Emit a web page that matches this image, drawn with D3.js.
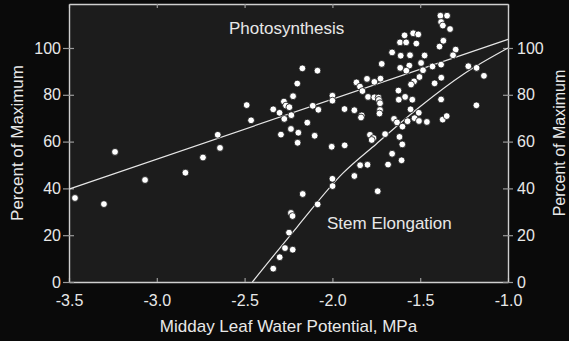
<!DOCTYPE html>
<html>
<head>
<meta charset="utf-8">
<script src="https://cdn.jsdelivr.net/npm/d3@7"></script>
<style>
  body { margin: 0; background: #0a0a0a; }
  text { font-family: "Liberation Sans", Arial, sans-serif; fill: #e8e8e8; }
</style>
</head>
<body>
<div id="chart"></div>
<script>
// midday leaf water potential (MPa) of each observation
let leafPotential = [
  -3.466, -3.301, -3.238, -3.067, -2.837, -2.737, -2.653, -2.640, -2.488, -2.463,
  -2.337, -2.301, -2.276, -2.264, -2.245, -2.274, -2.234, -2.224, -2.200, -2.171,
  -2.085, -2.293, -2.236, -2.194, -2.198, -2.143, -2.112, -2.080, -2.101, -2.004,
  -2.000, -2.000, -1.931, -1.875, -1.833, -1.837, -1.930, -1.842, -1.800, -1.863,
  -1.843, -1.829, -1.797, -1.803, -1.761, -1.726, -1.761, -1.737, -1.735, -1.729,
  -1.729, -1.732, -1.786, -1.766, -1.776, -1.700, -1.719, -1.660, -1.615, -1.580,
  -1.522, -1.589, -1.540, -1.511, -1.611, -1.558, -1.614, -1.562, -1.579, -1.495,
  -1.484, -1.475, -1.430, -1.381, -1.504, -1.380, -1.418, -1.535, -1.552, -1.624,
  -1.586, -1.622, -1.545, -1.381, -1.385, -1.347, -1.381, -1.371, -1.330, -1.368,
  -1.390, -1.298, -1.313, -1.226, -1.179, -1.137, -1.555, -1.508, -1.532, -1.507,
  -1.462, -1.649, -1.632, -1.601, -1.572, -1.372, -1.349, -1.180, -1.618, -1.602,
  -1.660, -1.606, -1.683, -1.875, -2.000, -1.999, -1.742, -2.169, -2.084, -2.236,
  -2.227, -2.247, -2.270, -2.226, -2.300, -2.337
];
// percent of maximum (photosynthesis or stem elongation) for the same observations
let percentMax = [
   35.9,  33.3,  55.6,  43.6,  46.7,  53.2,  62.9,  57.3,  75.6,  69.1,
   73.8,  72.3,  77.1,  75.4,  74.7,  69.7,  71.3,  79.4,  84.8,  91.3,
   90.3,  63.0,  65.4,  63.8,  59.5,  68.1,  75.3,  73.6,  62.5,  57.8,
   79.6,  77.5,  73.9,  73.4,  71.2,  70.3,  58.4,  49.9,  50.1,  85.3,
   83.5,  81.6,  79.1,  86.8,  85.5,  86.9,  78.9,  78.8,  77.8,  76.4,
   73.5,  72.0,  62.9,  61.5,  60.7,  63.2,  93.2,  98.1, 102.4, 102.4,
  101.9, 105.4, 106.3, 105.8,  96.7,  96.9,  91.5,  92.5,  90.3,  93.6,
   90.5,  96.8,  92.1,  92.9,  87.6,  87.3,  84.9,  85.7,  84.4,  81.8,
   79.1,  77.9,  77.9,  78.0, 113.8, 113.8, 111.1, 109.6, 108.1, 103.1,
  100.6,  99.3,  96.9,  92.2,  91.5,  88.1,  73.8,  72.3,  70.0,  68.8,
   68.4,  69.7,  68.2,  66.4,  68.7,  69.4,  70.9,  75.5,  62.0,  58.8,
   54.8,  52.0,  50.2,  45.3,  44.1,  41.0,  38.8,  37.6,  33.2,  29.5,
   28.2,  21.1,  14.5,  13.8,  10.6,   5.7
];

// fitted lines: [water potential, percent]
let photoFit = [[-3.5, 39.7], [-1.0, 103.7]];
let stemFit = [[-2.456, 0], [-2.2, 23.6], [-1.94, 46.5], [-1.75, 59], [-1.5, 75], [-1.25, 89], [-1.0, 100]];

let xTicks = [-3.5, -3.0, -2.5, -2.0, -1.5, -1.0];
let yTicks = [0, 20, 40, 60, 80, 100];

// set the dimensions of the canvas
let margin = {top: 4, right: 61, bottom: 59, left: 69},
    width = 569 - margin.left - margin.right,
    height = 341 - margin.top - margin.bottom;

let x = d3.scaleLinear().domain([-3.5, -1.0]).range([0, width]);
let y = d3.scaleLinear().domain([0, 118.8]).range([height, 0]);

let root = d3.select("#chart").append("svg")
    .attr("width", 569)
    .attr("height", 341);

root.append("rect")
    .attr("width", 569).attr("height", 341)
    .attr("fill", "#0a0a0a");

let svg = root.append("g")
    .attr("transform", "translate(" + margin.left + "," + margin.top + ")");

// plot background
svg.append("rect")
    .attr("width", width)
    .attr("height", height)
    .attr("fill", "#1c1c1c");

let axisColor = "#cfcfcf";

function styleAxis(g){
    g.select(".domain").attr("stroke", axisColor).attr("stroke-width", 1.4);
    g.selectAll(".tick line").attr("stroke", "#9a9a9a").attr("stroke-width", 1.2);
    g.selectAll(".tick text")
        .attr("fill", "#e8e8e8")
        .style("font-size", "16px")
        .style("font-family", '"Liberation Sans", Arial, sans-serif');
}

// bottom axis, ticks point inward (plain hyphen as in the original)
svg.append("g")
    .attr("transform", "translate(0," + height + ")")
    .call(d3.axisBottom(x).tickValues(xTicks).tickSizeInner(-4).tickSizeOuter(0)
        .tickPadding(13).tickFormat(function(d){ return d.toFixed(1); }))
    .call(styleAxis);

// top axis, no labels
svg.append("g")
    .call(d3.axisTop(x).tickValues(xTicks).tickSizeInner(-4).tickSizeOuter(0).tickFormat(""))
    .call(styleAxis);

// left axis
svg.append("g")
    .call(d3.axisLeft(y).tickValues(yTicks).tickSizeInner(6).tickSizeOuter(0).tickPadding(2))
    .call(styleAxis)
    .call(g => g.selectAll(".tick line").attr("x1", 5));

// right axis
svg.append("g")
    .attr("transform", "translate(" + width + ",0)")
    .call(d3.axisRight(y).tickValues(yTicks).tickSizeInner(5).tickSizeOuter(0).tickPadding(4))
    .call(styleAxis)
    .call(g => g.selectAll(".tick line").attr("x1", -5));

// regression lines
let line = d3.line()
    .x(function(d){ return x(d[0]); })
    .y(function(d){ return y(d[1]); });

svg.append("path")
    .datum(photoFit)
    .attr("d", line)
    .attr("fill", "none")
    .attr("stroke", "#e6e6e6")
    .attr("stroke-width", 1.2);

svg.append("path")
    .datum(stemFit)
    .attr("d", line.curve(d3.curveMonotoneX))
    .attr("fill", "none")
    .attr("stroke", "#e6e6e6")
    .attr("stroke-width", 1.2);

// observations
svg.selectAll(".dot")
    .data(leafPotential)
    .enter()
    .append("circle")
    .attr("class", "dot")
    .attr("cx", function(d){ return x(d); })
    .attr("cy", function(d, i){ return y(percentMax[i]); })
    .attr("r", 3.4)
    .attr("fill", "#ffffff")
    .attr("stroke", "#111")
    .attr("stroke-width", 0.8);

// labels for the two responses
svg.append("text")
    .attr("x", 229 - margin.left)
    .attr("y", 34 - margin.top)
    .style("font-size", "17px")
    .text("Photosynthesis");

svg.append("text")
    .attr("x", 327 - margin.left)
    .attr("y", 229 - margin.top)
    .style("font-size", "17px")
    .text("Stem Elongation");

// text label for the x axis
root.append("text")
    .attr("x", margin.left + width / 2)
    .attr("y", 332)
    .style("text-anchor", "middle")
    .style("font-size", "17px")
    .text("Midday Leaf Water Potential, MPa");

// text labels for the y axes
root.append("text")
    .attr("transform", "translate(23," + (margin.top + height / 2) + ") rotate(-90)")
    .style("text-anchor", "middle")
    .style("font-size", "17px")
    .text("Percent of Maximum");

root.append("text")
    .attr("transform", "translate(565," + (margin.top + height / 2) + ") rotate(-90)")
    .style("text-anchor", "middle")
    .style("font-size", "16px")
    .text("Percent of Maximum");
</script>
</body>
</html>
